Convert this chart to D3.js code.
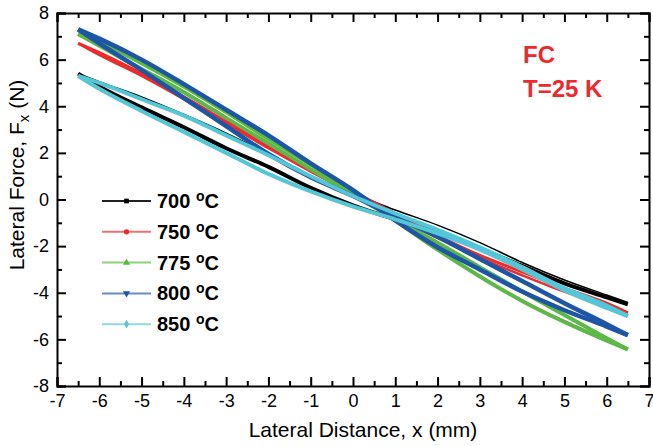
<!DOCTYPE html>
<html>
<head>
<meta charset="utf-8">
<script src="https://cdn.jsdelivr.net/npm/d3@7"></script>
<style>
  body { margin: 0; background: #fff; }
  svg { font-family: "Liberation Sans", Arial, sans-serif; }
  .axis path, .axis line { stroke: #000; stroke-width: 2; }
  .axis text { font-size: 18px; fill: #000; }
</style>
</head>
<body>
<svg width="653" height="446"></svg>
<script>
// x positions (mm) shared by every branch
var xPts = [-6.5, -6, -5, -4, -3, -2, -1, 0, 1, 2, 3, 4, 5, 6, 6.5];

// each temperature: two branches of the hysteresis loop (N)
var t700a = [5.4, 5.05, 4.4, 3.65, 2.85, 1.95, 1.0, 0.26, -0.45, -1.1, -1.85, -2.7, -3.45, -4.1, -4.42];
var t700b = [5.4, 4.85, 3.95, 3.1, 2.2, 1.4, 0.5, -0.25, -0.85, -1.4, -2.1, -2.85, -3.6, -4.2, -4.5];
var t750a = [6.7, 6.3, 5.4, 4.4, 3.35, 2.3, 1.3, 0.35, -0.6, -1.55, -2.4, -3.1, -3.8, -4.45, -4.86];
var t750b = [6.7, 6.2, 5.3, 4.3, 3.25, 2.2, 1.2, 0.25, -0.7, -1.65, -2.5, -3.25, -3.95, -4.55, -4.86];
var t775a = [7.1, 6.75, 5.85, 4.85, 3.75, 2.6, 1.5, 0.35, -0.9, -2.15, -3.3, -4.35, -5.25, -6.05, -6.43];
var t775b = [7.1, 6.6, 5.6, 4.6, 3.5, 2.4, 1.3, 0.2, -0.85, -1.85, -2.9, -3.95, -4.95, -5.95, -6.43];
var t800a = [7.3, 6.9, 6.0, 4.95, 3.85, 2.75, 1.55, 0.4, -0.9, -2.05, -3.0, -3.95, -4.75, -5.45, -5.82];
var t800b = [7.3, 6.7, 5.55, 4.35, 3.15, 1.95, 0.95, 0.15, -0.75, -1.6, -2.55, -3.5, -4.45, -5.35, -5.82];
var t850a = [5.3, 5.0, 4.3, 3.6, 2.75, 1.9, 1.0, 0.15, -0.6, -1.3, -2.05, -2.9, -3.8, -4.55, -5.0];
var t850b = [5.3, 4.75, 3.8, 2.9, 2.0, 1.1, 0.35, -0.3, -0.85, -1.45, -2.15, -3.0, -3.9, -4.65, -5.0];

var labels = ["700", "750", "775", "800", "850"];
var colors = ["#000000", "#ee2a2a", "#5cb948", "#1f55a6", "#55c6d6"];
var legendColors = ["#222222", "#f07070", "#8fd07c", "#6a8cc4", "#8fd9e3"];
var branches = [[t700a, t700b], [t750a, t750b], [t775a, t775b], [t800a, t800b], [t850a, t850b]];
var widths = [[1.5, 4], [3, 2.5], [4, 4], [4.5, 4.5], [4, 4]];

var xTicks = d3.range(-7, 7.01, 1);
var yTicks = d3.range(-8, 8.01, 2);

var svg = d3.select("svg"),
    margin = { top: 13, right: 4, bottom: 60, left: 57 },
    width = +svg.attr("width") - margin.left - margin.right,
    height = +svg.attr("height") - margin.top - margin.bottom;

var x = d3.scaleLinear().domain([-7, 7]).range([0, width]),
    y = d3.scaleLinear().domain([-8, 8]).range([height, 0]);

var W = x(7), H = y(-8);

var g = svg.append("g")
    .attr("transform", "translate(" + margin.left + "," + margin.top + ")");

svg.append("defs").append("clipPath")
    .attr("id", "clip")
    .append("rect")
    .attr("width", W)
    .attr("height", H);

var line = d3.line()
    .curve(d3.curveMonotoneX)
    .x(function (d) { return x(d[0]); })
    .y(function (d) { return y(d[1]); });

var plot = g.append("g").attr("clip-path", "url(#clip)");
branches.forEach(function (pair, i) {
    pair.forEach(function (vals, j) {
        plot.append("path")
            .datum(xPts.map(function (v, k) { return [v, vals[k]]; }))
            .attr("fill", "none")
            .attr("stroke", colors[i])
            .attr("stroke-width", widths[i][j])
            .attr("d", line);
    });
});

// axes, ticks inside
var minorX = d3.range(-6.5, 7, 1), minorY = d3.range(-7, 8, 2);

function addAxis(axisFn, scale, ticks, minor, tr, showLabels) {
    var a = g.append("g").attr("class", "axis").attr("transform", tr);
    a.call(axisFn(scale).tickValues(ticks).tickSize(-9).tickPadding(8)
        .tickFormat(showLabels ? d3.format("d") : ""));
    var m = g.append("g").attr("class", "axis").attr("transform", tr);
    m.call(axisFn(scale).tickValues(minor).tickSize(-5).tickFormat(""));
    m.select(".domain").remove();
    return a;
}

addAxis(d3.axisBottom, x, xTicks, minorX, "translate(0," + H + ")", true);
addAxis(d3.axisTop, x, xTicks, minorX, "translate(0,0)", false);
addAxis(d3.axisLeft, y, yTicks, minorY, "translate(0,0)", true);
addAxis(d3.axisRight, y, yTicks, minorY, "translate(" + W + ",0)", false);

g.selectAll(".axis text").text(function () {
    return d3.select(this).text().replace("−", "-");
});

// axis titles
svg.append("text")
    .attr("x", 363).attr("y", 437)
    .attr("text-anchor", "middle")
    .attr("font-size", 21)
    .text("Lateral Distance, x (mm)");

var yl = svg.append("text")
    .attr("transform", "translate(24,175) rotate(-90)")
    .attr("text-anchor", "middle")
    .attr("font-size", 21);
yl.append("tspan").text("Lateral Force, F");
yl.append("tspan").attr("font-size", 15).attr("dy", 5).text("x");
yl.append("tspan").attr("dy", -5).text(" (N)");

// annotation
var ann = svg.append("g").attr("fill", "#ec2a2e").attr("font-weight", "bold").attr("font-size", 24);
ann.append("text").attr("x", 523).attr("y", 63).text("FC");
ann.append("text").attr("x", 523).attr("y", 97).text("T=25 K");

// legend
var symbols = [d3.symbolSquare, d3.symbolCircle, d3.symbolTriangle, d3.symbolTriangle, d3.symbolDiamond];
var leg = svg.append("g").attr("transform", "translate(102,201)");
labels.forEach(function (lab, i) {
    var row = leg.append("g").attr("transform", "translate(0," + (i * 30.8) + ")");
    row.append("line").attr("x1", 0).attr("x2", 49)
        .attr("stroke", legendColors[i]).attr("stroke-width", 2);
    row.append("path")
        .attr("d", d3.symbol().type(symbols[i]).size(22))
        .attr("transform", "translate(24.5,0)" + (i === 3 ? " rotate(180)" : ""))
        .attr("fill", colors[i]);
    var t = row.append("text").attr("x", 55).attr("y", 7)
        .attr("font-weight", "bold").attr("font-size", 20);
    t.append("tspan").text(lab + " ");
    t.append("tspan").attr("font-size", 14).attr("dy", -7).text("o");
    t.append("tspan").attr("dy", 7).text("C");
});
</script>
</body>
</html>
